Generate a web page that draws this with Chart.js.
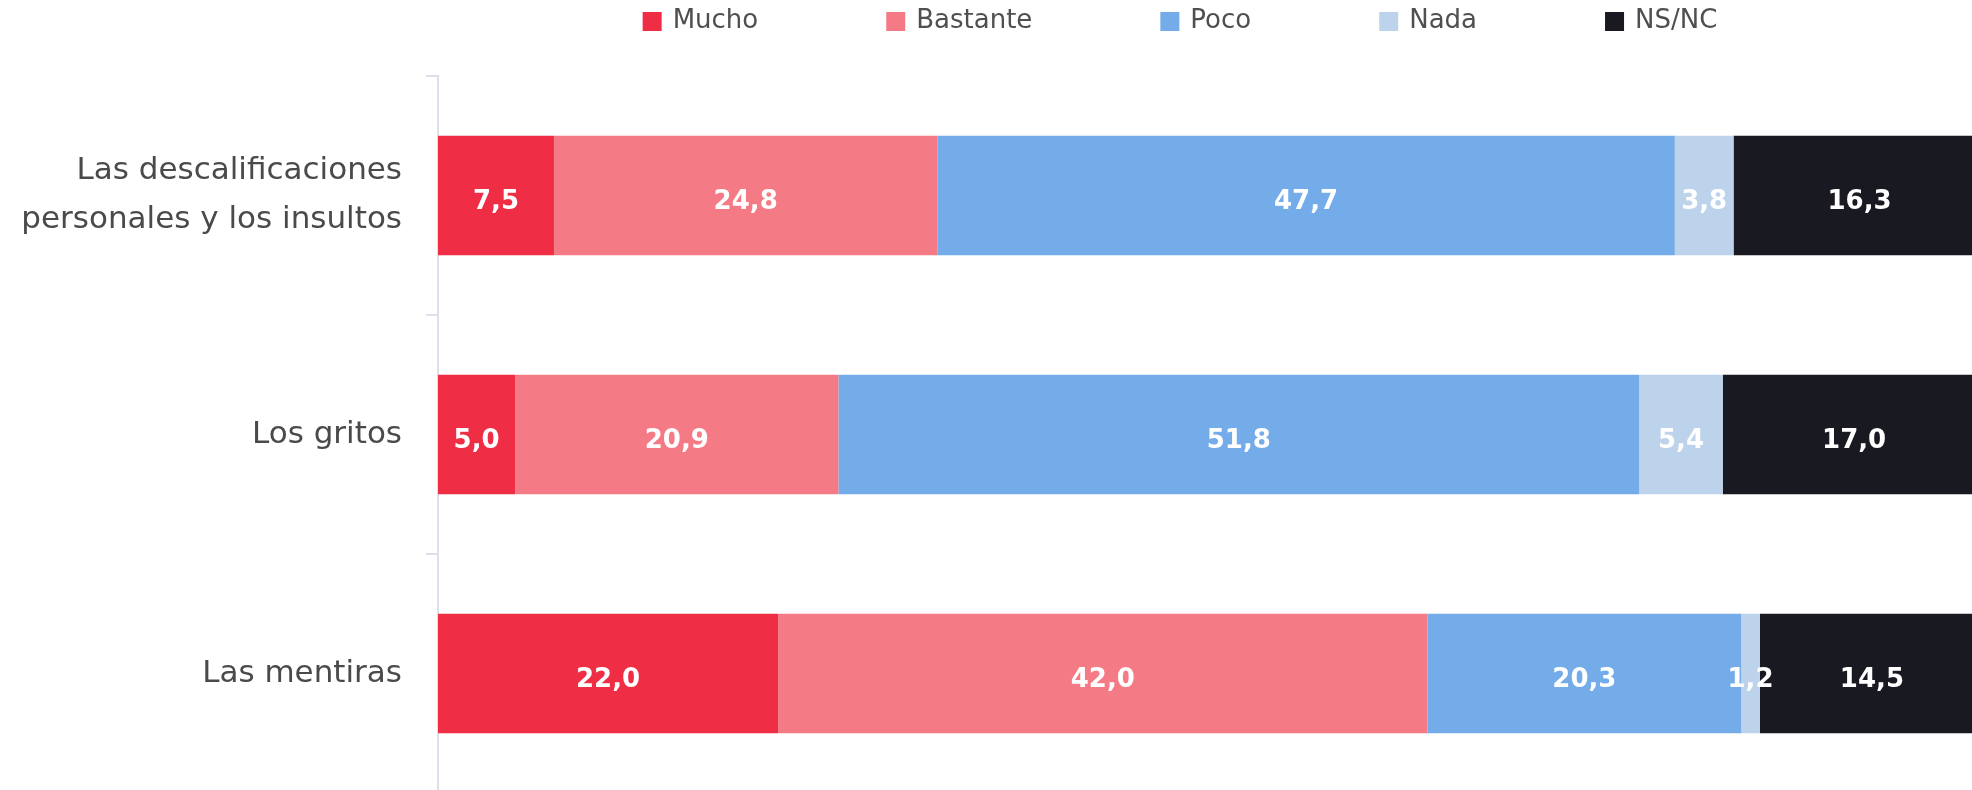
<!DOCTYPE html>
<html>
<head>
<meta charset="utf-8">
<script src="https://cdn.jsdelivr.net/npm/chart.js@4"></script>
<style>
  body { margin: 0; background: #fff; overflow: hidden; }
  #chartInsultos { display: block; }
</style>
</head>
<body>
<canvas id="chartInsultos" width="1984" height="797"></canvas>
<script>
// Datos
const categories = [['Las descalificaciones', 'personales y los insultos'], 'Los gritos', 'Las mentiras'];
const seriesNames = ['Mucho', 'Bastante', 'Poco', 'Nada', 'NS/NC'];
const mucho = [7.5, 5.0, 22.0];
const bastante = [24.8, 20.9, 42.0];
const poco = [47.7, 51.8, 20.3];
const nada = [3.8, 5.4, 1.2];
const nsnc = [16.3, 17.0, 14.5];
const colors = ['#EF2E45', '#F47B85', '#74ABE9', '#BDD3EC', '#191921'];

const FONT = "'DejaVu Sans', 'Noto Sans', sans-serif";

// etiquetas blancas dentro de cada barra
const valueLabels = {
  id: 'valueLabels',
  afterDatasetsDraw(chart) {
    const ctx = chart.ctx;
    ctx.save();
    ctx.font = 'bold 26px ' + FONT;
    ctx.fillStyle = '#ffffff';
    ctx.textAlign = 'center';
    ctx.textBaseline = 'middle';
    chart.data.datasets.forEach((ds, i) => {
      chart.getDatasetMeta(i).data.forEach((bar, j) => {
        const v = ds.data[j];
        const x = (bar.x + bar.base) / 2;
        ctx.fillText(v.toFixed(1).replace('.', ','), x, bar.y + 7);
      });
    });
    ctx.restore();
  }
};

// leyenda arriba (espaciado ancho)
const topLegend = {
  id: 'topLegend',
  afterDraw(chart) {
    const ctx = chart.ctx;
    ctx.save();
    ctx.font = '26px ' + FONT;
    ctx.textBaseline = 'middle';
    ctx.textAlign = 'left';
    const box = 19, gap = 11, pad = 128;
    const widths = chart.data.datasets.map(ds => box + gap + ctx.measureText(ds.label).width);
    const total = widths.reduce((a, b) => a + b, 0) + pad * (widths.length - 1);
    let x = 1180 - total / 2;
    chart.data.datasets.forEach((ds, i) => {
      ctx.fillStyle = ds.backgroundColor;
      ctx.fillRect(x, 12, box, box);
      ctx.fillStyle = '#4f4f4f';
      ctx.fillText(ds.label, x + box + gap, 21);
      x += widths[i] + pad;
    });
    ctx.restore();
  }
};

const data = {
  labels: categories,
  datasets: [mucho, bastante, poco, nada, nsnc].map((vals, i) => ({
    label: seriesNames[i],
    data: vals,
    backgroundColor: colors[i],
    borderWidth: 0,
    barPercentage: 1,
    categoryPercentage: 0.5
  }))
};

const config = {
  type: 'bar',
  data: data,
  options: {
    indexAxis: 'y',
    responsive: false,
    animation: false,
    devicePixelRatio: 1,
    layout: { padding: { top: 76, bottom: 4, left: 0, right: 0 } },
    plugins: {
      legend: { display: false },
      tooltip: { enabled: false }
    },
    scales: {
      x: {
        stacked: true,
        display: false,
        min: 0,
        max: 100
      },
      y: {
        stacked: true,
        afterFit: (scale) => {
          scale.width = 438;
          scale.paddingTop = 0;
          scale.paddingBottom = 0;
        },
        grid: {
          offset: true,
          drawOnChartArea: false,
          drawTicks: true,
          tickLength: 12,
          lineWidth: 2,
          color: '#dde0ea'
        },
        border: { display: true, color: '#dde0ea', width: 2 },
        ticks: {
          padding: 24,
          color: '#4a4a4a',
          font: { family: FONT, size: 31, lineHeight: 1.58 }
        }
      }
    }
  },
  plugins: [valueLabels, topLegend]
};

const myChart = new Chart(document.getElementById('chartInsultos'), config);
</script>
</body>
</html>
